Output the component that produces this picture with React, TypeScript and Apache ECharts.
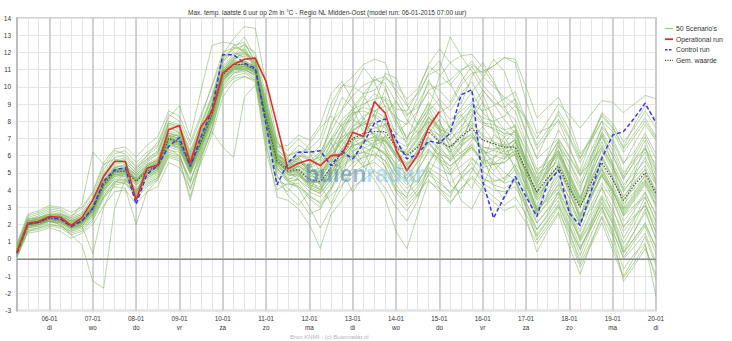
import React, { useEffect, useRef } from 'react';
import * as echarts from 'echarts';

const titleText = 'Max. temp. laatste 6 uur op 2m in °C - Regio NL Midden-Oost (model run: 06-01-2015 07:00 uur)';
const footerText = 'Bron KNMI - (c) Buienradar.nl';
const dayDates = ['06-01', '07-01', '08-01', '09-01', '10-01', '11-01', '12-01', '13-01', '14-01', '15-01', '16-01', '17-01', '18-01', '19-01', '20-01'];
const dayNames = ['di', 'wo', 'do', 'vr', 'za', 'zo', 'ma', 'di', 'wo', 'do', 'vr', 'za', 'zo', 'ma', 'di'];
const legendNames = ["50 Scenario's", 'Operational run', 'Control run', 'Gem. waarde'];

const operational = [0.4, 2.07, 2.17, 2.46, 2.42, 1.94, 2.4, 3.43, 4.79, 5.66, 5.66, 3.43, 5.27, 5.47, 7.5, 7.75, 5.56, 7.69, 8.57, 10.8, 11.3, 11.6, 11.67, 10.3, 7.8, 5.23, 5.56, 5.76, 5.42, 6.0, 6.05, 7.36, 7.11, 9.15, 8.47, 6.34, 5.12, 6.05, 7.64, 8.57];
const control = [0.33, 2.02, 2.13, 2.42, 2.33, 1.88, 2.21, 2.95, 4.5, 5.17, 5.31, 3.18, 4.92, 5.42, 6.53, 7.05, 5.37, 7.11, 8.66, 11.86, 11.86, 11.38, 11.09, 7.79, 4.3, 5.56, 6.2, 6.2, 6.28, 5.42, 6.24, 5.81, 6.72, 7.89, 8.14, 6.92, 5.81, 6.09, 6.86, 6.72, 7.31, 9.53, 9.83, 4.5, 2.37, 3.62, 4.79, 3.62, 2.46, 4.4, 5.17, 2.66, 1.94, 3.91, 5.85, 7.2, 7.4, 8.18, 9.05, 7.89];
const meanValues = [0.4, 2.0, 2.1, 2.35, 2.3, 1.95, 2.2, 2.9, 4.3, 5.1, 5.1, 4.5, 5.1, 5.4, 7.0, 6.8, 5.4, 6.8, 8.4, 10.7, 11.3, 11.3, 11.0, 8.2, 5.7, 5.1, 5.2, 4.6, 4.5, 5.3, 6.2, 7.0, 7.3, 7.4, 7.4, 6.5, 6.0, 6.5, 7.4, 6.8, 6.5, 7.1, 7.6, 6.9, 6.7, 6.5, 6.5, 5.2, 3.9, 4.7, 5.4, 4.1, 3.0, 4.4, 5.6, 4.6, 3.4, 4.3, 5.0, 3.8];

const s01 = [0.5, 2.2, 2.3, 2.6, 2.5, 2.1, 2.4, 3.3, 4.8, 5.6, 5.8, 3.6, 5.5, 5.9, 7.6, 7.4, 5.8, 7.4, 9.1, 11.2, 11.9, 12.0, 11.6, 9.0, 6.3, 5.4, 5.9, 5.2, 4.8, 5.9, 7.2, 8.3, 8.9, 9.6, 9.2, 7.8, 7.0, 7.9, 9.1, 8.4, 7.6, 8.8, 9.7, 8.5, 7.9, 7.2, 7.8, 6.1, 4.6, 5.5, 6.3, 4.8, 3.5, 5.2, 6.6, 5.4, 4.1, 5.3, 6.2, 4.9];
const s02 = [0.2, 1.7, 1.8, 2.0, 1.9, 1.6, 1.8, 2.4, 3.6, 4.5, 4.6, 3.9, 4.6, 4.9, 6.3, 6.2, 4.0, 6.1, 7.6, 9.9, 10.6, 10.8, 10.4, 6.5, 4.5, 4.3, 4.4, 3.6, 3.3, 4.1, 4.9, 5.6, 5.9, 6.1, 5.7, 4.8, 4.1, 4.6, 5.3, 4.9, 4.4, 5.0, 5.6, 4.7, 4.3, 4.1, 4.5, 3.3, 2.1, 2.8, 3.6, 2.4, 1.2, 2.5, 3.7, 2.8, 1.6, 2.4, 3.1, 1.9];
const s03 = [0.6, 2.1, 2.4, 2.7, 2.6, 2.2, 2.5, 3.1, 4.6, 5.3, 5.5, 4.8, 5.4, 5.8, 7.3, 7.1, 5.9, 7.2, 8.9, 11.0, 11.7, 12.3, 11.2, 8.6, 6.1, 5.6, 6.0, 5.7, 6.2, 7.4, 8.6, 9.5, 10.1, 10.4, 10.2, 9.1, 8.3, 9.0, 10.2, 9.8, 9.1, 10.3, 11.2, 10.1, 9.4, 8.6, 8.1, 6.6, 4.9, 5.4, 6.0, 4.7, 3.2, 4.6, 6.0, 4.8, 3.6, 4.4, 5.2, 4.0];
const s04 = [0.3, 1.9, 2.0, 2.2, 2.0, 1.4, 0.8, -1.3, -1.7, 2.9, 4.6, 3.9, 4.9, 5.6, 6.8, 6.4, 5.0, 6.6, 8.2, 10.4, 11.0, 11.2, 10.8, 7.9, 5.3, 4.6, 4.9, 4.1, 3.8, 4.6, 5.5, 6.2, 6.8, 7.1, 6.6, 5.4, 4.9, 5.6, 6.4, 5.7, 5.2, 6.0, 6.5, 5.6, 5.9, 6.3, 7.0, 5.8, 4.4, 5.1, 5.7, 4.3, 3.1, 4.2, 5.3, 4.0, 2.5, 3.1, 3.6, 2.2];
const s05 = [0.8, 2.3, 2.4, 2.5, 2.3, 1.8, 1.9, 0.3, 3.0, 4.4, 5.0, 3.8, 5.3, 5.6, 7.2, 6.6, 5.3, 6.9, 8.6, 10.9, 11.5, 11.4, 11.0, 8.4, 5.9, 5.0, 5.4, 4.9, 4.6, 5.8, 6.9, 7.5, 7.9, 8.4, 8.0, 6.8, 6.2, 7.1, 8.3, 7.4, 6.9, 7.5, 8.0, 7.2, 6.8, 6.6, 6.9, 5.0, 3.4, 4.1, 4.9, 3.5, 2.1, 3.6, 5.0, 4.0, 2.7, 3.6, 4.5, 3.2];
const s06 = [0.5, 2.0, 2.2, 2.5, 2.6, 2.4, 3.2, 6.2, 5.5, 5.8, 5.6, 5.0, 5.6, 6.1, 7.9, 7.7, 6.1, 7.5, 9.0, 11.1, 11.8, 12.5, 11.5, 9.2, 6.8, 6.0, 6.3, 5.8, 5.5, 6.4, 7.6, 8.8, 9.6, 10.4, 10.6, 9.8, 8.9, 9.6, 10.7, 11.0, 12.9, 11.8, 10.9, 9.8, 9.1, 8.8, 9.3, 8.0, 6.4, 7.2, 8.1, 7.0, 5.6, 6.8, 8.0, 7.4, 6.2, 7.1, 8.0, 7.0];
const s07 = [0.3, 2.0, 2.1, 2.3, 2.2, 1.9, 2.1, 2.7, 4.1, 4.9, 4.8, 4.3, 4.8, 5.1, 6.7, 6.6, 5.1, 6.6, 8.1, 10.5, 11.1, 11.0, 10.7, 7.8, 5.2, 4.7, 4.6, 3.9, 3.6, 4.4, 5.3, 6.0, 6.2, 6.0, 5.4, 4.1, 3.3, 4.0, 5.1, 4.6, 3.8, 4.7, 5.3, 4.4, 4.0, 3.9, 4.2, 3.0, 1.7, 2.5, 3.4, 1.9, 0.2, 1.8, 3.0, 1.4, -0.6, 0.3, 0.9, -2.2];
const s08 = [0.4, 2.1, 2.2, 2.4, 2.4, 2.0, 2.3, 3.0, 4.4, 5.2, 5.2, 4.7, 5.2, 5.5, 7.1, 7.0, 5.5, 7.0, 8.6, 10.8, 11.4, 11.4, 11.1, 8.3, 5.8, 5.5, 6.0, 5.9, 6.6, 8.5, 10.0, 10.6, 11.3, 11.6, 11.4, 9.6, 8.4, 8.8, 9.7, 8.9, 8.1, 8.6, 9.1, 8.0, 7.5, 7.1, 7.4, 5.7, 4.2, 5.0, 5.9, 4.5, 3.3, 4.7, 5.9, 4.7, 3.4, 4.1, 4.8, 3.6];
const s09 = [0.2, 1.8, 1.9, 2.1, 2.1, 1.7, 2.0, 2.6, 3.9, 4.7, 4.7, 4.0, 4.7, 5.0, 6.5, 6.3, 4.9, 6.3, 7.9, 10.2, 10.9, 11.0, 10.6, 6.8, 3.6, 3.4, 2.9, 2.0, 0.6, 2.6, 3.4, 4.2, 4.6, 5.1, 4.7, 3.5, 2.8, 3.7, 4.9, 4.4, 3.9, 4.6, 5.3, 4.6, 4.5, 4.7, 5.4, 4.3, 2.9, 3.8, 4.8, 3.5, 2.0, 3.6, 4.9, 3.9, 2.6, 3.5, 4.4, 3.1];
const s10 = [0.5, 2.1, 2.3, 2.5, 2.4, 2.0, 2.3, 3.0, 4.5, 5.3, 5.4, 4.6, 5.2, 5.6, 7.2, 7.0, 5.6, 7.1, 8.7, 10.9, 11.5, 11.5, 11.2, 8.5, 6.0, 5.2, 5.5, 5.1, 5.0, 6.0, 6.8, 7.7, 8.3, 8.6, 8.9, 8.2, 7.8, 8.6, 9.8, 10.1, 10.4, 11.0, 11.3, 10.8, 11.2, 11.7, 11.6, 10.0, 8.2, 8.8, 9.4, 8.0, 6.1, 6.9, 8.0, 6.6, 5.0, 5.8, 6.4, 5.1];
const s11 = [0.4, 1.9, 2.0, 2.2, 2.2, 1.9, 2.1, 2.8, 4.0, 4.8, 4.9, 4.4, 4.9, 5.2, 6.6, 6.4, 5.0, 6.5, 8.0, 10.3, 11.0, 11.1, 10.8, 8.0, 5.5, 4.9, 4.8, 4.4, 4.5, 5.0, 5.6, 6.3, 6.5, 6.2, 5.7, 4.3, 3.5, 4.2, 5.2, 4.1, 3.3, 4.1, 4.8, 4.2, 3.6, 3.1, 3.6, 2.6, 1.3, 2.2, 3.1, 1.8, 0.6, 2.0, 3.2, 2.1, 0.4, 1.2, 2.0, 0.7];
const s12 = [0.6, 2.2, 2.3, 2.4, 2.3, 2.0, 2.2, 2.9, 4.2, 5.0, 5.1, 3.3, 5.0, 5.3, 6.9, 6.7, 5.3, 6.7, 8.3, 10.6, 11.2, 11.3, 10.9, 8.1, 5.6, 5.0, 5.0, 4.3, 4.1, 5.0, 6.0, 6.9, 7.2, 7.6, 7.8, 6.9, 6.5, 7.2, 8.2, 7.6, 7.2, 8.0, 8.6, 7.9, 7.8, 7.5, 7.7, 5.6, 3.0, 4.9, 6.8, 4.5, 2.2, 5.0, 7.2, 5.5, 2.9, 4.9, 6.6, 4.4];
const s13 = [0.5, 2.0, 2.1, 2.4, 2.3, 2.0, 2.2, 3.2, 4.9, 5.7, 5.7, 5.2, 6.0, 6.8, 8.2, 8.9, 7.1, 9.8, 12.4, 12.6, 12.5, 12.0, 11.4, 8.8, 6.2, 5.3, 5.1, 4.6, 4.0, 4.8, 5.7, 6.5, 6.9, 7.1, 6.8, 5.9, 5.3, 5.8, 6.7, 6.0, 5.4, 5.9, 6.4, 5.6, 5.5, 5.6, 6.1, 4.5, 2.8, 3.5, 4.3, 3.0, 1.6, 3.1, 4.4, 3.4, 1.8, 2.8, 3.8, 2.6];
const s14 = [0.3, 2.1, 2.2, 2.3, 2.2, 1.8, 2.1, 2.8, 4.4, 5.2, 5.3, 4.6, 5.3, 5.7, 7.4, 7.3, 5.7, 7.3, 9.0, 11.9, 12.8, 13.5, 13.4, 10.2, 6.9, 5.8, 5.6, 5.3, 5.6, 6.7, 7.9, 8.5, 8.6, 8.3, 7.8, 6.6, 6.1, 7.0, 8.2, 7.7, 7.4, 8.3, 9.0, 8.6, 8.9, 9.3, 9.7, 8.1, 6.6, 7.5, 8.4, 7.1, 5.8, 7.0, 8.3, 7.6, 6.4, 7.3, 8.2, 7.1];
const s15 = [0.4, 2.0, 2.0, 2.2, 2.1, 1.8, 2.0, 2.6, 4.0, 4.6, 4.6, 4.0, 4.5, 4.8, 6.4, 6.0, 4.6, 6.0, 7.4, 6.5, 5.9, 9.4, 10.1, 8.0, 5.6, 4.6, 4.2, 3.7, 3.2, 3.7, 4.3, 5.0, 5.4, 5.6, 5.1, 3.9, 3.1, 3.8, 4.6, 3.9, 3.2, 4.1, 4.7, 3.9, 3.3, 2.8, 3.1, 2.1, 0.9, 1.8, 2.7, 1.5, -0.3, 1.0, 2.5, 1.3, -1.3, -0.4, 0.6, -0.9];
const s16 = [0.7, 2.3, 2.5, 2.8, 2.7, 2.3, 2.6, 3.4, 5.0, 5.9, 6.0, 5.3, 5.8, 6.2, 7.8, 7.5, 6.0, 7.7, 9.3, 11.4, 12.4, 12.6, 11.4, 8.9, 6.4, 5.7, 5.8, 5.0, 4.8, 5.5, 6.4, 7.0, 7.0, 6.6, 6.0, 4.6, 3.8, 4.4, 5.6, 5.2, 4.9, 5.8, 6.7, 6.1, 6.3, 6.7, 7.5, 6.4, 5.0, 5.9, 6.8, 5.6, 4.2, 5.5, 6.8, 5.6, 4.3, 5.0, 5.7, 4.4];
const s17 = [0.1, 1.6, 1.7, 1.9, 1.8, 1.4, 1.6, 2.2, 3.5, 4.3, 4.4, 3.5, 4.2, 4.6, 6.0, 5.8, 3.6, 5.9, 7.5, 9.8, 10.5, 10.6, 10.3, 6.2, 4.0, 4.4, 4.2, 3.5, 3.0, 4.2, 5.2, 5.9, 6.4, 6.8, 7.1, 6.4, 6.0, 6.7, 7.6, 6.9, 6.4, 7.2, 7.9, 7.1, 6.6, 6.2, 6.4, 4.6, 2.9, 3.4, 4.1, 2.6, 1.0, 2.1, 3.3, 2.0, 0.3, 1.2, 2.1, 0.6];
const s18 = [0.4, 2.0, 2.1, 2.3, 2.3, 2.0, 2.3, 3.0, 4.3, 5.0, 5.1, 4.6, 5.2, 5.4, 7.0, 6.9, 5.4, 6.9, 8.4, 10.6, 11.2, 11.2, 11.0, 8.2, 5.7, 5.0, 5.2, 4.7, 4.4, 5.4, 5.9, 6.0, 5.4, 4.6, 3.5, 1.6, 0.6, 2.6, 4.5, 4.1, 3.6, 4.8, 5.8, 5.3, 5.5, 6.0, 6.8, 5.5, 4.1, 5.2, 6.2, 5.0, 3.6, 5.0, 6.3, 5.1, 3.6, 4.5, 5.2, 3.9];
const s19 = [0.5, 2.1, 2.2, 2.5, 2.4, 2.0, 2.3, 3.1, 4.6, 5.4, 5.4, 4.9, 5.4, 5.7, 7.3, 7.1, 5.6, 7.1, 8.7, 10.9, 11.5, 12.2, 11.1, 8.4, 6.0, 5.6, 6.2, 6.4, 7.0, 9.0, 10.1, 10.0, 9.6, 9.8, 10.5, 10.1, 9.3, 9.9, 11.2, 10.7, 10.1, 10.9, 11.5, 10.6, 10.0, 9.4, 9.0, 7.3, 5.8, 6.4, 7.0, 5.9, 4.8, 6.0, 7.1, 6.0, 4.7, 5.6, 6.4, 5.5];
const s20 = [0.3, 1.9, 2.0, 2.3, 2.2, 1.9, 2.1, 2.7, 4.1, 4.9, 4.9, 3.4, 4.9, 5.2, 6.7, 6.5, 5.1, 6.6, 8.2, 10.4, 11.1, 11.2, 10.8, 7.9, 5.4, 4.8, 5.0, 4.4, 4.2, 5.2, 6.2, 7.4, 7.9, 7.7, 7.2, 6.0, 5.5, 6.1, 7.0, 6.3, 5.7, 6.2, 6.6, 5.6, 4.9, 4.4, 4.6, 3.1, 1.4, 2.3, 3.2, 1.6, -0.1, 1.4, 2.8, 1.6, 0.1, 1.0, 1.9, 0.3];
const s21 = [0.9, 2.4, 2.6, 2.9, 2.8, 2.4, 2.7, 3.6, 5.2, 6.1, 6.3, 5.6, 6.2, 6.6, 8.0, 7.8, 6.3, 7.9, 9.5, 11.6, 12.2, 12.9, 11.7, 9.2, 6.6, 6.0, 6.2, 5.7, 5.9, 6.9, 7.8, 8.1, 7.7, 7.2, 6.9, 5.9, 5.4, 6.3, 7.6, 7.2, 6.9, 7.7, 8.4, 7.8, 7.6, 7.3, 7.2, 5.9, 4.7, 5.8, 6.9, 6.0, 4.9, 6.3, 7.6, 6.8, 5.5, 6.7, 7.8, 6.9];
const s22 = [0.2, 1.6, 1.8, 2.0, 1.9, 1.5, 1.7, 2.3, 3.6, 4.2, 4.1, 2.0, 3.9, 4.6, 5.9, 5.7, 3.4, 5.8, 7.6, 10.0, 10.8, 10.9, 10.5, 7.6, 5.1, 4.5, 4.6, 4.1, 3.8, 4.7, 5.4, 6.0, 6.2, 6.5, 6.1, 5.2, 4.7, 5.2, 6.2, 5.6, 4.9, 5.4, 5.9, 5.1, 4.6, 4.5, 5.2, 3.8, 2.4, 3.3, 4.4, 3.2, 2.0, 3.5, 4.8, 3.9, 2.5, 3.4, 4.3, 3.0];
const s23 = [0.6, 2.2, 2.3, 2.5, 2.5, 2.2, 2.5, 3.2, 4.7, 5.5, 5.6, 5.0, 5.7, 6.1, 7.7, 7.3, 5.9, 7.4, 9.0, 11.0, 11.6, 12.0, 11.1, 8.6, 6.1, 5.5, 5.7, 5.1, 5.1, 6.3, 7.5, 8.4, 8.8, 8.6, 8.2, 7.3, 6.8, 7.5, 8.5, 7.6, 6.6, 6.9, 7.2, 6.3, 6.0, 5.8, 6.3, 5.1, 3.8, 4.6, 5.5, 4.3, 3.0, 4.5, 5.8, 4.7, 3.2, 3.9, 4.6, 3.5];
const s24 = [0.4, 2.0, 2.2, 2.4, 2.2, 1.8, 2.2, 2.9, 4.3, 5.1, 5.0, 3.9, 5.1, 5.3, 6.9, 6.6, 5.2, 6.8, 8.3, 10.6, 11.3, 11.3, 11.0, 8.0, 5.5, 4.9, 4.9, 4.3, 4.0, 4.9, 5.8, 6.7, 7.1, 7.3, 7.0, 6.1, 5.6, 6.2, 7.1, 6.4, 5.9, 6.6, 7.1, 6.3, 5.7, 5.0, 4.6, 2.4, 0.4, 1.6, 2.6, 0.7, -0.9, 0.9, 2.4, 0.8, -1.0, 0.1, 1.3, -0.4];
const s25 = [0.5, 2.1, 2.2, 2.4, 2.3, 1.9, 2.2, 2.9, 4.3, 5.1, 5.2, 4.5, 5.1, 5.5, 7.0, 6.8, 5.4, 6.8, 8.5, 10.7, 11.3, 11.3, 11.0, 8.3, 5.8, 5.2, 5.3, 4.8, 4.7, 5.6, 6.6, 7.5, 7.8, 7.9, 7.6, 6.6, 6.1, 6.9, 8.0, 7.5, 7.3, 8.1, 8.7, 8.2, 8.0, 8.3, 8.9, 8.2, 7.0, 8.0, 9.0, 8.4, 7.6, 8.4, 9.2, 9.1, 8.5, 9.0, 9.5, 9.3];
const s26 = [0.3, 2.0, 2.1, 2.3, 2.3, 2.0, 2.2, 2.9, 4.2, 4.9, 5.0, 4.4, 5.0, 5.3, 6.8, 6.7, 5.3, 6.7, 8.3, 10.5, 11.1, 11.2, 10.9, 8.1, 5.6, 5.0, 5.1, 4.5, 4.4, 5.1, 5.9, 6.6, 6.8, 6.9, 6.9, 6.0, 5.5, 5.9, 6.8, 6.1, 5.8, 6.5, 7.1, 6.5, 6.4, 6.4, 6.6, 5.0, 3.6, 4.4, 5.2, 3.8, 2.5, 3.9, 5.2, 4.1, 2.8, 3.7, 4.6, 3.4];
const s27 = [0.4, 2.0, 2.1, 2.3, 2.2, 1.9, 2.2, 2.8, 4.2, 5.0, 5.1, 4.5, 5.0, 5.3, 6.9, 6.7, 5.2, 6.8, 8.4, 10.6, 11.2, 11.2, 10.9, 8.1, 5.6, 5.1, 5.4, 5.0, 5.3, 6.4, 7.1, 7.4, 7.0, 6.5, 6.1, 5.3, 5.2, 6.4, 7.9, 8.5, 8.9, 10.1, 10.8, 10.9, 11.2, 11.7, 11.4, 9.2, 7.3, 7.6, 8.0, 6.5, 4.9, 5.6, 6.5, 5.4, 4.0, 4.7, 5.4, 4.3];
const s28 = [0.6, 2.1, 2.2, 2.4, 2.4, 2.1, 2.4, 3.1, 4.5, 5.2, 5.2, 4.7, 5.2, 5.5, 7.1, 6.9, 5.5, 6.9, 8.5, 10.7, 11.3, 11.3, 11.0, 8.2, 5.7, 5.2, 5.4, 5.0, 4.9, 5.7, 6.3, 6.6, 6.7, 6.5, 6.2, 5.0, 4.3, 5.1, 6.3, 5.8, 5.4, 6.0, 6.5, 5.8, 5.5, 5.6, 6.2, 5.0, 3.5, 4.4, 5.3, 3.9, 2.4, 3.7, 4.9, 3.5, 1.9, 2.5, 3.1, 1.6];
const s29 = [0.3, 1.9, 2.1, 2.3, 2.3, 1.9, 2.1, 2.8, 4.3, 5.0, 5.1, 4.6, 5.1, 5.4, 6.9, 6.8, 5.4, 6.8, 8.4, 10.6, 11.2, 11.3, 11.0, 8.2, 5.8, 5.3, 5.6, 5.4, 5.8, 7.0, 8.1, 8.7, 9.0, 9.3, 9.4, 8.7, 8.6, 9.7, 11.3, 12.2, 11.4, 11.8, 11.9, 11.1, 10.2, 9.2, 8.6, 6.8, 5.2, 5.6, 6.1, 4.6, 3.1, 4.1, 5.2, 3.7, 2.2, 3.0, 3.9, 2.5];
const s30 = [0.4, 2.0, 2.1, 2.2, 2.2, 1.8, 2.1, 2.8, 4.2, 4.9, 5.0, 4.3, 4.8, 5.2, 6.8, 6.6, 5.2, 6.7, 8.2, 10.5, 11.1, 11.1, 10.8, 7.9, 5.3, 4.5, 4.1, 3.0, 1.8, 3.0, 4.2, 5.3, 6.0, 6.6, 6.9, 6.1, 5.8, 6.6, 7.6, 6.8, 6.2, 6.8, 7.3, 6.5, 6.3, 6.1, 6.0, 4.4, 2.6, 3.2, 3.9, 2.3, 0.7, 1.8, 3.0, 1.7, 0.0, 0.7, 1.5, -0.2];
const s31 = [0.7, 2.5, 2.7, 3.0, 2.9, 2.5, 2.9, 3.8, 5.4, 6.3, 6.1, 5.4, 6.0, 6.5, 8.4, 8.0, 6.6, 8.2, 10.1, 12.0, 12.3, 12.1, 11.3, 8.7, 6.0, 5.1, 4.6, 5.3, 6.1, 7.7, 9.4, 8.8, 7.3, 8.1, 9.9, 8.4, 6.9, 8.6, 10.4, 9.2, 7.5, 6.6, 8.3, 9.6, 8.1, 6.2, 5.4, 3.9, 2.7, 4.6, 6.1, 4.9, 3.3, 5.5, 7.4, 6.3, 4.8, 6.0, 7.1, 5.8];
const s32 = [0.1, 1.5, 1.6, 1.8, 1.6, 1.2, 1.5, 2.0, 3.1, 3.9, 4.0, 3.2, 3.9, 4.2, 5.6, 5.3, 4.1, 5.6, 7.2, 9.4, 10.3, 10.6, 10.4, 7.3, 4.9, 3.7, 3.1, 3.9, 5.2, 6.8, 5.1, 3.9, 4.8, 6.6, 7.9, 6.3, 4.5, 3.6, 4.9, 6.2, 5.0, 3.4, 2.9, 4.2, 5.8, 7.1, 6.0, 4.2, 2.6, 3.7, 5.3, 4.0, 2.2, 2.9, 4.1, 3.0, 1.2, 2.3, 3.6, 2.1];
const s33 = [0.9, 2.6, 2.8, 3.1, 3.0, 2.7, 3.0, 3.9, 5.6, 6.4, 6.5, 5.9, 6.6, 7.1, 8.6, 8.3, 6.8, 8.4, 10.0, 11.7, 12.2, 12.4, 12.0, 9.5, 6.7, 6.3, 7.0, 6.4, 5.7, 7.9, 8.7, 9.9, 11.1, 10.3, 8.8, 7.2, 7.9, 9.4, 10.8, 11.5, 10.2, 9.0, 10.6, 11.4, 10.4, 8.9, 7.6, 5.3, 3.8, 5.1, 6.5, 5.7, 4.4, 5.9, 7.7, 7.0, 5.6, 6.2, 7.3, 6.1];
const s34 = [0.3, 1.8, 1.9, 2.2, 2.0, 1.6, 1.9, 2.5, 3.8, 4.5, 4.4, 3.8, 4.4, 4.7, 6.2, 6.0, 4.5, 6.2, 7.8, 10.1, 10.8, 11.0, 10.7, 7.1, 4.4, 3.9, 4.8, 5.6, 4.3, 3.2, 4.7, 6.8, 8.2, 7.0, 5.3, 4.0, 3.6, 5.2, 7.3, 8.1, 6.4, 4.8, 4.1, 5.6, 7.2, 6.8, 5.1, 3.3, 1.7, 2.6, 3.9, 2.8, 1.1, 2.2, 3.6, 2.4, 0.6, 1.6, 2.7, 1.2];
const s35 = [0.6, 2.3, 2.4, 2.6, 2.6, 2.3, 2.6, 3.4, 4.9, 5.7, 5.9, 5.1, 5.8, 6.3, 7.9, 7.6, 6.2, 7.8, 9.4, 11.5, 12.0, 11.7, 11.3, 8.8, 6.5, 6.6, 7.2, 6.9, 7.8, 9.6, 10.3, 9.2, 8.1, 9.0, 10.8, 10.5, 9.0, 7.8, 8.7, 10.6, 11.4, 10.8, 9.7, 10.5, 11.6, 10.9, 9.2, 7.4, 5.9, 7.3, 8.6, 7.5, 5.9, 7.1, 8.4, 7.7, 6.5, 7.8, 8.9, 8.1];
const s36 = [0.2, 1.8, 2.0, 2.2, 2.1, 1.7, 1.9, 2.5, 3.7, 4.4, 4.5, 3.7, 4.3, 4.7, 6.1, 5.9, 4.4, 6.4, 8.1, 10.4, 11.1, 11.4, 11.2, 7.7, 4.8, 4.1, 3.5, 2.6, 2.9, 4.0, 5.8, 7.1, 6.3, 4.9, 4.1, 3.0, 2.2, 3.4, 5.5, 6.6, 5.7, 6.5, 7.8, 6.1, 4.2, 3.5, 4.7, 3.0, 1.1, 2.0, 3.0, 1.2, -0.5, 0.8, 2.1, 0.5, -1.1, -0.2, 0.8, -1.2];
const s37 = [0.5, 2.1, 2.2, 2.4, 2.5, 2.2, 2.4, 3.1, 4.5, 5.3, 5.2, 4.5, 5.4, 5.8, 7.3, 7.2, 5.8, 7.0, 8.6, 10.8, 11.6, 11.8, 11.4, 8.6, 5.9, 5.4, 5.6, 5.5, 6.1, 7.0, 6.4, 5.6, 6.9, 8.5, 9.3, 8.0, 7.1, 7.7, 8.8, 7.5, 6.0, 6.8, 8.2, 9.1, 8.3, 7.5, 7.0, 5.4, 3.7, 4.4, 5.6, 4.2, 2.6, 3.8, 5.5, 4.3, 2.9, 3.8, 4.9, 3.7];
const s38 = [0.4, 2.0, 2.1, 2.3, 2.2, 1.8, 2.0, 2.7, 4.0, 4.8, 4.8, 4.1, 4.7, 5.1, 6.6, 6.5, 5.0, 6.5, 8.0, 10.3, 11.0, 11.1, 10.9, 8.3, 6.0, 5.8, 5.0, 4.2, 3.9, 5.5, 7.3, 8.6, 9.5, 8.3, 6.4, 5.0, 4.6, 5.7, 6.8, 5.9, 4.3, 3.8, 5.1, 6.4, 5.5, 4.6, 5.5, 4.9, 3.9, 5.4, 6.6, 5.3, 4.0, 5.8, 7.3, 6.0, 4.6, 5.7, 6.9, 5.2];
const s39 = [0.5, 2.2, 2.4, 2.6, 2.5, 2.2, 2.3, 3.0, 4.5, 5.1, 5.3, 4.9, 5.5, 5.7, 7.2, 7.0, 5.7, 7.2, 8.8, 11.0, 11.7, 11.9, 11.5, 8.9, 6.3, 5.9, 6.6, 6.2, 5.0, 5.8, 7.0, 7.9, 9.2, 10.6, 10.0, 8.1, 6.6, 7.3, 8.6, 9.3, 8.6, 9.6, 10.3, 9.1, 7.4, 6.5, 6.9, 4.8, 2.8, 3.6, 4.6, 2.9, 1.3, 2.7, 4.2, 2.5, 0.9, 2.0, 3.3, 1.5];
const s40 = [0.3, 1.9, 2.0, 2.3, 2.2, 1.8, 2.1, 2.8, 4.3, 5.0, 5.2, 4.6, 5.1, 5.3, 6.9, 6.9, 5.5, 6.8, 8.3, 10.5, 11.0, 11.0, 10.7, 8.4, 6.1, 5.3, 5.8, 6.7, 7.6, 8.3, 7.7, 6.6, 5.5, 6.8, 8.4, 9.2, 8.1, 7.3, 8.0, 7.1, 6.2, 7.5, 8.9, 9.8, 9.0, 8.1, 7.3, 5.6, 4.3, 6.0, 7.5, 6.4, 5.1, 6.9, 8.5, 7.9, 6.8, 7.6, 8.6, 7.6];
const s41 = [0.6, 2.1, 2.3, 2.4, 2.4, 2.1, 2.3, 3.0, 4.4, 5.2, 5.3, 4.8, 5.3, 5.6, 7.1, 7.2, 5.7, 7.1, 8.7, 10.9, 11.4, 11.5, 11.2, 8.5, 5.9, 5.2, 5.0, 4.4, 4.7, 6.2, 6.9, 6.2, 5.3, 5.8, 7.2, 6.6, 5.1, 4.4, 5.5, 6.9, 7.8, 8.4, 7.4, 6.1, 5.1, 5.8, 6.8, 5.7, 4.5, 5.3, 6.3, 4.9, 3.5, 4.9, 6.4, 5.3, 3.9, 4.8, 5.9, 4.6];
const s42 = [0.4, 2.0, 2.2, 2.5, 2.3, 1.9, 2.2, 2.9, 4.4, 5.1, 5.1, 4.6, 5.2, 5.5, 7.0, 6.8, 5.3, 6.9, 8.5, 10.7, 11.4, 11.4, 11.1, 8.4, 5.8, 5.4, 5.9, 5.1, 4.3, 4.9, 6.3, 7.7, 8.0, 7.2, 6.3, 5.5, 6.4, 7.9, 9.0, 8.0, 6.8, 6.1, 6.9, 7.7, 6.8, 5.9, 6.3, 4.0, 2.1, 2.9, 3.8, 2.0, 0.5, 1.9, 3.5, 2.2, 0.4, 1.6, 2.9, 1.1];

const scenarios = [s01, s02, s03, s04, s05, s06, s07, s08, s09, s10, s11, s12, s13, s14, s15, s16, s17, s18, s19, s20, s21, s22, s23, s24, s25, s26, s27, s28, s29, s30, s31, s32, s33, s34, s35, s36, s37, s38, s39, s40, s41, s42];

const FONT = 'Liberation Sans, Arial, sans-serif';
const N = meanValues.length;
const isDay = (i: number) => i >= 3 && (i - 3) % 4 === 0;
const categories = Array.from({ length: N }, (_, i) =>
  isDay(i) ? `${dayDates[(i - 3) / 4]}\n${dayNames[(i - 3) / 4]}` : `t${i}`
);

const SCEN_COLOR = 'rgba(128,180,92,0.55)';
const MEAN_COLOR = '#4a5040';
const CTRL_COLOR = '#3535ee';
const OPER_COLOR = '#e82a2a';

export default function App() {
  const ref = useRef<HTMLDivElement>(null);
  useEffect(() => {
    if (!ref.current) return;
    const chart = echarts.init(ref.current, null, { renderer: 'svg' });
    const series: any[] = scenarios.map((d, k) => ({
      name: legendNames[0],
      type: 'line',
      data: d,
      symbol: 'none',
      silent: true,
      color: SCEN_COLOR,
      lineStyle: { color: SCEN_COLOR, width: 1 },
      z: 2,
      ...(k === 0
        ? {
            markLine: {
              silent: true,
              symbol: ['none', 'none'],
              label: { show: false },
              lineStyle: { color: '#ff5a5a', width: 1, type: 'solid' },
              data: [{ yAxis: 0 }],
            },
          }
        : {}),
    }));
    series.push({
      name: legendNames[3], type: 'line', data: meanValues, symbol: 'none', silent: true,
      color: MEAN_COLOR, lineStyle: { color: MEAN_COLOR, width: 1.2, type: [1.5, 1.5] }, z: 3,
    });
    series.push({
      name: legendNames[2], type: 'line', data: control, symbol: 'none', silent: true,
      color: CTRL_COLOR, lineStyle: { color: CTRL_COLOR, width: 1.5, type: [4, 2.5] }, z: 4,
    });
    series.push({
      name: legendNames[1], type: 'line', data: operational, symbol: 'none', silent: true,
      color: OPER_COLOR, lineStyle: { color: OPER_COLOR, width: 1.6 }, z: 5,
    });

    const legendStyles = [
      { stroke: '#9cc77f', lineWidth: 1.2, lineDash: null as any },
      { stroke: OPER_COLOR, lineWidth: 1.8, lineDash: null as any },
      { stroke: CTRL_COLOR, lineWidth: 1.6, lineDash: [2.5, 1.5] },
      { stroke: MEAN_COLOR, lineWidth: 1.2, lineDash: [1.2, 1.2] },
    ];
    const legendRowsY = [28.5, 39.2, 49.8, 60.4];
    const legendGraphics: any[] = [];
    legendNames.forEach((name, k) => {
      legendGraphics.push({
        type: 'line',
        silent: true,
        shape: { x1: 665, y1: legendRowsY[k], x2: 673, y2: legendRowsY[k] },
        style: { stroke: legendStyles[k].stroke, lineWidth: legendStyles[k].lineWidth, lineDash: legendStyles[k].lineDash },
      });
      legendGraphics.push({
        type: 'text',
        silent: true,
        x: 676,
        y: legendRowsY[k],
        style: { text: name, fontSize: 6.8, fill: '#333', fontFamily: FONT, verticalAlign: 'middle', align: 'left' },
      });
    });

    chart.setOption({
      animation: false,
      backgroundColor: '#ffffff',
      title: {
        text: titleText,
        left: 183,
        top: 4,
        textStyle: { fontSize: 6.5, fontWeight: 'normal', color: '#333', fontFamily: FONT },
      },
      grid: { left: 17, right: 76, top: 18, bottom: 30.5, show: true, borderColor: '#d2d2d2', borderWidth: 2 },
      xAxis: [
        {
          type: 'category',
          data: categories,
          boundaryGap: false,
          axisLine: { show: true, lineStyle: { color: '#bdbdbd', width: 2 } },
          axisTick: { show: false },
          axisLabel: {
            interval: (i: number) => isDay(i),
            formatter: (v: string) => (v.startsWith('t') ? '' : v),
            fontSize: 6.3,
            lineHeight: 8.5,
            color: '#333',
            fontFamily: FONT,
            margin: 4,
          },
          splitLine: { show: true, interval: 0, lineStyle: { color: '#e4e4e4', width: 1 } },
        },
        {
          type: 'category',
          data: categories,
          boundaryGap: false,
          position: 'bottom',
          axisLine: { show: false },
          axisTick: { show: false },
          axisLabel: { show: false },
          splitLine: { show: true, interval: (i: number) => isDay(i), lineStyle: { color: '#c8c8c8', width: 1.6 } },
        },
      ],
      yAxis: {
        type: 'value',
        min: -3,
        max: 14,
        interval: 1,
        axisLine: { show: true, lineStyle: { color: '#bdbdbd', width: 2 } },
        axisTick: { show: false },
        axisLabel: { fontSize: 6.5, color: '#333', fontFamily: FONT, margin: 6 },
        splitLine: { show: true, lineStyle: { color: '#e4e4e4', width: 1 } },
      },
      graphic: [
        {
          type: 'text',
          left: 305,
          top: 162,
          z: 100,
          silent: true,
          style: {
            text: '{a|buien}{b|radar}',
            rich: {
              a: { fill: 'rgba(60,120,180,0.5)', fontSize: 23, fontWeight: 'bold', fontFamily: FONT },
              b: { fill: 'rgba(110,185,230,0.45)', fontSize: 23, fontWeight: 'bold', fontFamily: FONT },
            },
          },
        },
        {
          type: 'text',
          left: 290,
          top: 334,
          silent: true,
          style: { text: footerText, fill: '#b4b4b4', fontSize: 6, fontFamily: FONT },
        },
        ...legendGraphics,
      ],
      series,
    });
    return () => chart.dispose();
  }, []);
  return (
    <div
      ref={ref}
      style={{ position: 'fixed', left: 0, top: 0, width: 732, height: 341, background: '#fff' }}
    />
  );
}
